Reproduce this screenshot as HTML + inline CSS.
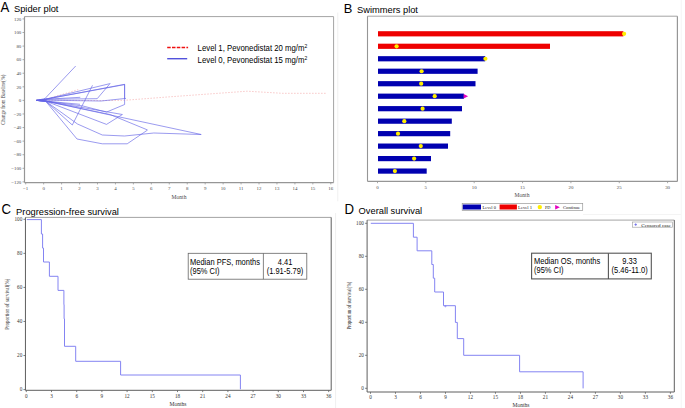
<!DOCTYPE html>
<html><head><meta charset="utf-8"><style>
html,body{margin:0;padding:0;background:#fff;width:685px;height:408px;overflow:hidden;}
svg{display:block;}

</style></head><body>
<svg width="685" height="408" viewBox="0 0 685 408">
<rect width="685" height="408" fill="#fff"/>
<text transform="translate(0.40,12.30) scale(1,1.06)" font-size="13.2" font-family='"Liberation Sans", sans-serif' text-anchor="start" fill="#000" >A</text>
<text x="14.00" y="12.30" font-size="9.3" font-family='"Liberation Sans", sans-serif' text-anchor="start" fill="#000" >Spider plot</text>
<line x1="24.50" y1="16.60" x2="333.60" y2="16.60" stroke="#a4a4a4" stroke-width="1.0" />
<line x1="333.60" y1="16.60" x2="333.60" y2="182.60" stroke="#a4a4a4" stroke-width="1.0" />
<line x1="24.50" y1="16.60" x2="24.50" y2="182.60" stroke="#969696" stroke-width="1.2" />
<line x1="24.50" y1="182.60" x2="333.60" y2="182.60" stroke="#969696" stroke-width="1.2" />
<line x1="22.50" y1="18.92" x2="24.50" y2="18.92" stroke="#969696" stroke-width="0.8" />
<text x="21.30" y="20.62" font-size="4.9" font-family='"Liberation Serif", serif' text-anchor="end" fill="#4a4a4a" >120</text>
<line x1="22.50" y1="32.50" x2="24.50" y2="32.50" stroke="#969696" stroke-width="0.8" />
<text x="21.30" y="34.20" font-size="4.9" font-family='"Liberation Serif", serif' text-anchor="end" fill="#4a4a4a" >100</text>
<line x1="22.50" y1="46.08" x2="24.50" y2="46.08" stroke="#969696" stroke-width="0.8" />
<text x="21.30" y="47.78" font-size="4.9" font-family='"Liberation Serif", serif' text-anchor="end" fill="#4a4a4a" >80</text>
<line x1="22.50" y1="59.66" x2="24.50" y2="59.66" stroke="#969696" stroke-width="0.8" />
<text x="21.30" y="61.36" font-size="4.9" font-family='"Liberation Serif", serif' text-anchor="end" fill="#4a4a4a" >60</text>
<line x1="22.50" y1="73.24" x2="24.50" y2="73.24" stroke="#969696" stroke-width="0.8" />
<text x="21.30" y="74.94" font-size="4.9" font-family='"Liberation Serif", serif' text-anchor="end" fill="#4a4a4a" >40</text>
<line x1="22.50" y1="86.82" x2="24.50" y2="86.82" stroke="#969696" stroke-width="0.8" />
<text x="21.30" y="88.52" font-size="4.9" font-family='"Liberation Serif", serif' text-anchor="end" fill="#4a4a4a" >20</text>
<line x1="22.50" y1="100.40" x2="24.50" y2="100.40" stroke="#969696" stroke-width="0.8" />
<text x="21.30" y="102.10" font-size="4.9" font-family='"Liberation Serif", serif' text-anchor="end" fill="#4a4a4a" >0</text>
<line x1="22.50" y1="113.98" x2="24.50" y2="113.98" stroke="#969696" stroke-width="0.8" />
<text x="21.30" y="115.68" font-size="4.9" font-family='"Liberation Serif", serif' text-anchor="end" fill="#4a4a4a" >−20</text>
<line x1="22.50" y1="127.56" x2="24.50" y2="127.56" stroke="#969696" stroke-width="0.8" />
<text x="21.30" y="129.26" font-size="4.9" font-family='"Liberation Serif", serif' text-anchor="end" fill="#4a4a4a" >−40</text>
<line x1="22.50" y1="141.14" x2="24.50" y2="141.14" stroke="#969696" stroke-width="0.8" />
<text x="21.30" y="142.84" font-size="4.9" font-family='"Liberation Serif", serif' text-anchor="end" fill="#4a4a4a" >−60</text>
<line x1="22.50" y1="154.72" x2="24.50" y2="154.72" stroke="#969696" stroke-width="0.8" />
<text x="21.30" y="156.42" font-size="4.9" font-family='"Liberation Serif", serif' text-anchor="end" fill="#4a4a4a" >−80</text>
<line x1="22.50" y1="168.30" x2="24.50" y2="168.30" stroke="#969696" stroke-width="0.8" />
<text x="21.30" y="170.00" font-size="4.9" font-family='"Liberation Serif", serif' text-anchor="end" fill="#4a4a4a" >−100</text>
<line x1="22.50" y1="181.88" x2="24.50" y2="181.88" stroke="#969696" stroke-width="0.8" />
<text x="21.30" y="183.58" font-size="4.9" font-family='"Liberation Serif", serif' text-anchor="end" fill="#4a4a4a" >−120</text>
<line x1="25.70" y1="182.60" x2="25.70" y2="184.40" stroke="#969696" stroke-width="0.8" />
<text x="25.70" y="189.90" font-size="4.9" font-family='"Liberation Serif", serif' text-anchor="middle" fill="#4a4a4a" >−1</text>
<line x1="43.65" y1="182.60" x2="43.65" y2="184.40" stroke="#969696" stroke-width="0.8" />
<text x="43.65" y="189.90" font-size="4.9" font-family='"Liberation Serif", serif' text-anchor="middle" fill="#4a4a4a" >0</text>
<line x1="61.60" y1="182.60" x2="61.60" y2="184.40" stroke="#969696" stroke-width="0.8" />
<text x="61.60" y="189.90" font-size="4.9" font-family='"Liberation Serif", serif' text-anchor="middle" fill="#4a4a4a" >1</text>
<line x1="79.54" y1="182.60" x2="79.54" y2="184.40" stroke="#969696" stroke-width="0.8" />
<text x="79.54" y="189.90" font-size="4.9" font-family='"Liberation Serif", serif' text-anchor="middle" fill="#4a4a4a" >2</text>
<line x1="97.49" y1="182.60" x2="97.49" y2="184.40" stroke="#969696" stroke-width="0.8" />
<text x="97.49" y="189.90" font-size="4.9" font-family='"Liberation Serif", serif' text-anchor="middle" fill="#4a4a4a" >3</text>
<line x1="115.44" y1="182.60" x2="115.44" y2="184.40" stroke="#969696" stroke-width="0.8" />
<text x="115.44" y="189.90" font-size="4.9" font-family='"Liberation Serif", serif' text-anchor="middle" fill="#4a4a4a" >4</text>
<line x1="133.38" y1="182.60" x2="133.38" y2="184.40" stroke="#969696" stroke-width="0.8" />
<text x="133.38" y="189.90" font-size="4.9" font-family='"Liberation Serif", serif' text-anchor="middle" fill="#4a4a4a" >5</text>
<line x1="151.33" y1="182.60" x2="151.33" y2="184.40" stroke="#969696" stroke-width="0.8" />
<text x="151.33" y="189.90" font-size="4.9" font-family='"Liberation Serif", serif' text-anchor="middle" fill="#4a4a4a" >6</text>
<line x1="169.28" y1="182.60" x2="169.28" y2="184.40" stroke="#969696" stroke-width="0.8" />
<text x="169.28" y="189.90" font-size="4.9" font-family='"Liberation Serif", serif' text-anchor="middle" fill="#4a4a4a" >7</text>
<line x1="187.23" y1="182.60" x2="187.23" y2="184.40" stroke="#969696" stroke-width="0.8" />
<text x="187.23" y="189.90" font-size="4.9" font-family='"Liberation Serif", serif' text-anchor="middle" fill="#4a4a4a" >8</text>
<line x1="205.17" y1="182.60" x2="205.17" y2="184.40" stroke="#969696" stroke-width="0.8" />
<text x="205.17" y="189.90" font-size="4.9" font-family='"Liberation Serif", serif' text-anchor="middle" fill="#4a4a4a" >9</text>
<line x1="223.12" y1="182.60" x2="223.12" y2="184.40" stroke="#969696" stroke-width="0.8" />
<text x="223.12" y="189.90" font-size="4.9" font-family='"Liberation Serif", serif' text-anchor="middle" fill="#4a4a4a" >10</text>
<line x1="241.07" y1="182.60" x2="241.07" y2="184.40" stroke="#969696" stroke-width="0.8" />
<text x="241.07" y="189.90" font-size="4.9" font-family='"Liberation Serif", serif' text-anchor="middle" fill="#4a4a4a" >11</text>
<line x1="259.01" y1="182.60" x2="259.01" y2="184.40" stroke="#969696" stroke-width="0.8" />
<text x="259.01" y="189.90" font-size="4.9" font-family='"Liberation Serif", serif' text-anchor="middle" fill="#4a4a4a" >12</text>
<line x1="276.96" y1="182.60" x2="276.96" y2="184.40" stroke="#969696" stroke-width="0.8" />
<text x="276.96" y="189.90" font-size="4.9" font-family='"Liberation Serif", serif' text-anchor="middle" fill="#4a4a4a" >13</text>
<line x1="294.91" y1="182.60" x2="294.91" y2="184.40" stroke="#969696" stroke-width="0.8" />
<text x="294.91" y="189.90" font-size="4.9" font-family='"Liberation Serif", serif' text-anchor="middle" fill="#4a4a4a" >14</text>
<line x1="312.85" y1="182.60" x2="312.85" y2="184.40" stroke="#969696" stroke-width="0.8" />
<text x="312.85" y="189.90" font-size="4.9" font-family='"Liberation Serif", serif' text-anchor="middle" fill="#4a4a4a" >15</text>
<line x1="330.80" y1="182.60" x2="330.80" y2="184.40" stroke="#969696" stroke-width="0.8" />
<text x="330.80" y="189.90" font-size="4.9" font-family='"Liberation Serif", serif' text-anchor="middle" fill="#4a4a4a" >16</text>
<text x="179.00" y="199.00" font-size="5.6" font-family='"Liberation Serif", serif' text-anchor="middle" fill="#4a4a4a" >Month</text>
<text x="0.00" y="0.00" font-size="5.6" font-family='"Liberation Serif", serif' text-anchor="middle" fill="#444" transform="translate(5.1,99.7) rotate(-90)" textLength="50" lengthAdjust="spacingAndGlyphs">Change from Baseline(%)</text>
<line x1="167.20" y1="47.50" x2="188.10" y2="47.50" stroke="#ee1010" stroke-width="1.3" stroke-dasharray="3.5,1.3"/>
<line x1="167.20" y1="58.70" x2="187.20" y2="58.70" stroke="#5252dc" stroke-width="1.4" />
<text transform="translate(197.60,50.60) scale(1,1.12)" font-size="7.8" font-family='"Liberation Sans", sans-serif' text-anchor="start" fill="#000" >Level 1, Pevonedistat 20 mg/m<tspan dy="-2.6" font-size="5">2</tspan></text>
<text transform="translate(197.60,62.80) scale(1,1.12)" font-size="7.8" font-family='"Liberation Sans", sans-serif' text-anchor="start" fill="#000" >Level 0, Pevonedistat 15 mg/m<tspan dy="-2.6" font-size="5">2</tspan></text>
<polyline points="36.50,100.40 45.00,99.60 78.20,89.60" fill="none" stroke="#f3a3a3" stroke-width="0.6" stroke-dasharray="1.5,1.5"/>
<polyline points="36.50,100.40 45.00,100.10 101.00,100.60 124.50,100.30 170.00,96.80 247.20,91.20 282.20,93.30 326.00,93.30" fill="none" stroke="#f3a3a3" stroke-width="0.6" stroke-dasharray="1.5,1.5"/>
<polyline points="36.50,100.40 45.00,98.50 75.70,66.00" fill="none" stroke="#6464e6" stroke-width="0.65" stroke-linejoin="round"/>
<polyline points="36.50,100.40 45.00,99.30 124.60,84.30 124.60,98.50" fill="none" stroke="#6464e6" stroke-width="0.65" stroke-linejoin="round"/>
<polyline points="36.50,100.40 45.00,99.30 124.60,84.60" fill="none" stroke="#6464e6" stroke-width="0.65" stroke-linejoin="round"/>
<polyline points="36.50,100.40 45.00,99.30 110.40,83.50" fill="none" stroke="#6464e6" stroke-width="0.65" stroke-linejoin="round"/>
<polyline points="36.50,100.40 45.00,99.30 97.20,98.70 109.50,84.20" fill="none" stroke="#6464e6" stroke-width="0.65" stroke-linejoin="round"/>
<polyline points="36.50,100.40 45.60,101.10 72.30,125.00 92.50,85.30" fill="none" stroke="#6464e6" stroke-width="0.65" stroke-linejoin="round"/>
<polyline points="36.50,100.40 45.30,100.20 101.00,101.00 126.00,98.40" fill="none" stroke="#6464e6" stroke-width="0.65" stroke-linejoin="round"/>
<polyline points="36.50,100.40 45.60,101.10 83.00,106.00 106.50,112.10 124.60,104.50 124.60,84.30" fill="none" stroke="#6464e6" stroke-width="0.65" stroke-linejoin="round"/>
<polyline points="36.50,100.40 45.60,101.10 77.00,139.00 102.30,143.80 127.20,143.80 147.60,130.00" fill="none" stroke="#6464e6" stroke-width="0.65" stroke-linejoin="round"/>
<polyline points="36.50,100.40 45.60,101.10 110.00,114.50 147.20,129.80" fill="none" stroke="#6464e6" stroke-width="0.65" stroke-linejoin="round"/>
<polyline points="36.50,100.40 45.60,101.10 201.20,134.50" fill="none" stroke="#6464e6" stroke-width="0.65" stroke-linejoin="round"/>
<polyline points="36.50,100.40 45.60,101.10 77.50,124.00 102.30,135.00 124.60,136.00 153.80,133.00 201.20,134.50" fill="none" stroke="#6464e6" stroke-width="0.65" stroke-linejoin="round"/>
<polyline points="36.50,100.40 45.60,101.10 122.40,114.50" fill="none" stroke="#6464e6" stroke-width="0.65" stroke-linejoin="round"/>
<polyline points="36.50,100.40 45.60,101.10 106.50,124.40 122.40,114.50" fill="none" stroke="#6464e6" stroke-width="0.65" stroke-linejoin="round"/>
<polyline points="36.50,100.40 45.00,99.30 80.30,97.30" fill="none" stroke="#6464e6" stroke-width="0.65" stroke-linejoin="round"/>
<polyline points="36.50,100.40 45.60,101.10 80.00,104.30" fill="none" stroke="#6464e6" stroke-width="0.65" stroke-linejoin="round"/>
<text transform="translate(343.70,12.60) scale(1,1.06)" font-size="12.9" font-family='"Liberation Sans", sans-serif' text-anchor="start" fill="#000" >B</text>
<text x="357.00" y="13.10" font-size="9.3" font-family='"Liberation Sans", sans-serif' text-anchor="start" fill="#000" >Swimmers plot</text>
<line x1="367.50" y1="16.20" x2="677.40" y2="16.20" stroke="#a4a4a4" stroke-width="1.0" />
<line x1="677.40" y1="16.20" x2="677.40" y2="181.40" stroke="#969696" stroke-width="1.2" />
<line x1="367.50" y1="16.20" x2="367.50" y2="181.40" stroke="#969696" stroke-width="1.1" />
<line x1="367.50" y1="181.40" x2="677.40" y2="181.40" stroke="#969696" stroke-width="1.2" />
<line x1="377.50" y1="181.40" x2="377.50" y2="183.20" stroke="#969696" stroke-width="0.8" />
<text x="377.50" y="188.60" font-size="4.9" font-family='"Liberation Serif", serif' text-anchor="middle" fill="#4a4a4a" >0</text>
<line x1="425.85" y1="181.40" x2="425.85" y2="183.20" stroke="#969696" stroke-width="0.8" />
<text x="425.85" y="188.60" font-size="4.9" font-family='"Liberation Serif", serif' text-anchor="middle" fill="#4a4a4a" >5</text>
<line x1="474.20" y1="181.40" x2="474.20" y2="183.20" stroke="#969696" stroke-width="0.8" />
<text x="474.20" y="188.60" font-size="4.9" font-family='"Liberation Serif", serif' text-anchor="middle" fill="#4a4a4a" >10</text>
<line x1="522.55" y1="181.40" x2="522.55" y2="183.20" stroke="#969696" stroke-width="0.8" />
<text x="522.55" y="188.60" font-size="4.9" font-family='"Liberation Serif", serif' text-anchor="middle" fill="#4a4a4a" >15</text>
<line x1="570.90" y1="181.40" x2="570.90" y2="183.20" stroke="#969696" stroke-width="0.8" />
<text x="570.90" y="188.60" font-size="4.9" font-family='"Liberation Serif", serif' text-anchor="middle" fill="#4a4a4a" >20</text>
<line x1="619.25" y1="181.40" x2="619.25" y2="183.20" stroke="#969696" stroke-width="0.8" />
<text x="619.25" y="188.60" font-size="4.9" font-family='"Liberation Serif", serif' text-anchor="middle" fill="#4a4a4a" >25</text>
<line x1="667.60" y1="181.40" x2="667.60" y2="183.20" stroke="#969696" stroke-width="0.8" />
<text x="667.60" y="188.60" font-size="4.9" font-family='"Liberation Serif", serif' text-anchor="middle" fill="#4a4a4a" >30</text>
<text x="522.00" y="197.40" font-size="5.6" font-family='"Liberation Serif", serif' text-anchor="middle" fill="#4a4a4a" >Month</text>
<rect x="378.00" y="31.20" width="245.40" height="5.20" fill="#ee0000" stroke="none" stroke-width="1" />
<circle cx="624.10" cy="33.80" r="2.1" fill="#ffee00"/>
<rect x="378.00" y="43.68" width="172.00" height="5.20" fill="#ee0000" stroke="none" stroke-width="1" />
<circle cx="396.60" cy="46.28" r="2.1" fill="#ffee00"/>
<rect x="378.00" y="56.16" width="107.20" height="5.20" fill="#0000b0" stroke="none" stroke-width="1" />
<circle cx="485.40" cy="58.76" r="2.1" fill="#ffee00"/>
<rect x="378.00" y="68.64" width="99.60" height="5.20" fill="#0000b0" stroke="none" stroke-width="1" />
<circle cx="421.60" cy="71.24" r="2.1" fill="#ffee00"/>
<rect x="378.00" y="81.12" width="97.50" height="5.20" fill="#0000b0" stroke="none" stroke-width="1" />
<circle cx="421.20" cy="83.72" r="2.1" fill="#ffee00"/>
<rect x="378.00" y="93.60" width="85.90" height="5.20" fill="#0000b0" stroke="none" stroke-width="1" />
<circle cx="434.70" cy="96.20" r="2.1" fill="#ffee00"/>
<polygon points="463.70,93.90 468.10,96.20 463.70,98.50" fill="#e400c0"/>
<rect x="378.00" y="106.08" width="84.00" height="5.20" fill="#0000b0" stroke="none" stroke-width="1" />
<circle cx="422.60" cy="108.68" r="2.1" fill="#ffee00"/>
<rect x="378.00" y="118.56" width="73.80" height="5.20" fill="#0000b0" stroke="none" stroke-width="1" />
<circle cx="404.30" cy="121.16" r="2.1" fill="#ffee00"/>
<rect x="378.00" y="131.04" width="72.20" height="5.20" fill="#0000b0" stroke="none" stroke-width="1" />
<circle cx="398.00" cy="133.64" r="2.1" fill="#ffee00"/>
<rect x="378.00" y="143.52" width="70.00" height="5.20" fill="#0000b0" stroke="none" stroke-width="1" />
<circle cx="420.80" cy="146.12" r="2.1" fill="#ffee00"/>
<rect x="378.00" y="156.00" width="53.00" height="5.20" fill="#0000b0" stroke="none" stroke-width="1" />
<circle cx="414.10" cy="158.60" r="2.1" fill="#ffee00"/>
<rect x="378.00" y="168.48" width="48.70" height="5.20" fill="#0000b0" stroke="none" stroke-width="1" />
<circle cx="394.90" cy="171.08" r="2.1" fill="#ffee00"/>
<rect x="462.20" y="203.40" width="120.50" height="7.00" fill="#fff" stroke="#999" stroke-width="0.7" />
<rect x="462.80" y="204.50" width="18.20" height="5.00" fill="#0000b0" stroke="none" stroke-width="1" />
<text x="482.50" y="208.90" font-size="4.6" font-family='"Liberation Serif", serif' text-anchor="start" fill="#222" textLength="13.4" lengthAdjust="spacingAndGlyphs">Level 0</text>
<rect x="499.60" y="204.50" width="17.30" height="5.00" fill="#ee0000" stroke="none" stroke-width="1" />
<text x="518.10" y="208.90" font-size="4.6" font-family='"Liberation Serif", serif' text-anchor="start" fill="#222" textLength="14" lengthAdjust="spacingAndGlyphs">Level 1</text>
<circle cx="539.8" cy="207.1" r="2.2" fill="#ffee00"/>
<text x="544.90" y="208.90" font-size="4.6" font-family='"Liberation Serif", serif' text-anchor="start" fill="#222" textLength="5.5" lengthAdjust="spacingAndGlyphs">PD</text>
<polygon points="555.2,205.0 559.9,207.2 555.2,209.4" fill="#e400c0"/>
<text x="562.90" y="208.90" font-size="4.6" font-family='"Liberation Serif", serif' text-anchor="start" fill="#222" textLength="17.3" lengthAdjust="spacingAndGlyphs">Continue</text>
<text transform="translate(1.60,214.40) scale(1,1.06)" font-size="13.2" font-family='"Liberation Sans", sans-serif' text-anchor="start" fill="#000" >C</text>
<text x="16.10" y="214.60" font-size="9.3" font-family='"Liberation Sans", sans-serif' text-anchor="start" fill="#000" >Progression-free survival</text>
<line x1="25.45" y1="217.40" x2="331.20" y2="217.40" stroke="#a4a4a4" stroke-width="1.0" />
<line x1="331.20" y1="217.40" x2="331.20" y2="390.30" stroke="#5e5e5e" stroke-width="1.0" />
<line x1="25.45" y1="217.40" x2="25.45" y2="390.30" stroke="#5e5e5e" stroke-width="1.0" />
<line x1="25.45" y1="390.30" x2="331.20" y2="390.30" stroke="#5e5e5e" stroke-width="1.0" />
<line x1="23.45" y1="389.60" x2="25.45" y2="389.60" stroke="#5e5e5e" stroke-width="0.8" />
<text x="22.25" y="391.30" font-size="5.2" font-family='"Liberation Serif", serif' text-anchor="end" fill="#333" >0</text>
<line x1="23.45" y1="355.54" x2="25.45" y2="355.54" stroke="#5e5e5e" stroke-width="0.8" />
<text x="22.25" y="357.24" font-size="5.2" font-family='"Liberation Serif", serif' text-anchor="end" fill="#333" >20</text>
<line x1="23.45" y1="321.48" x2="25.45" y2="321.48" stroke="#5e5e5e" stroke-width="0.8" />
<text x="22.25" y="323.18" font-size="5.2" font-family='"Liberation Serif", serif' text-anchor="end" fill="#333" >40</text>
<line x1="23.45" y1="287.42" x2="25.45" y2="287.42" stroke="#5e5e5e" stroke-width="0.8" />
<text x="22.25" y="289.12" font-size="5.2" font-family='"Liberation Serif", serif' text-anchor="end" fill="#333" >60</text>
<line x1="23.45" y1="253.36" x2="25.45" y2="253.36" stroke="#5e5e5e" stroke-width="0.8" />
<text x="22.25" y="255.06" font-size="5.2" font-family='"Liberation Serif", serif' text-anchor="end" fill="#333" >80</text>
<line x1="23.45" y1="219.30" x2="25.45" y2="219.30" stroke="#5e5e5e" stroke-width="0.8" />
<text x="22.25" y="221.00" font-size="5.2" font-family='"Liberation Serif", serif' text-anchor="end" fill="#333" >100</text>
<line x1="26.30" y1="390.30" x2="26.30" y2="392.10" stroke="#5e5e5e" stroke-width="0.8" />
<text x="26.30" y="398.30" font-size="5.2" font-family='"Liberation Serif", serif' text-anchor="middle" fill="#333" >0</text>
<line x1="51.50" y1="390.30" x2="51.50" y2="392.10" stroke="#5e5e5e" stroke-width="0.8" />
<text x="51.50" y="398.30" font-size="5.2" font-family='"Liberation Serif", serif' text-anchor="middle" fill="#333" >3</text>
<line x1="76.70" y1="390.30" x2="76.70" y2="392.10" stroke="#5e5e5e" stroke-width="0.8" />
<text x="76.70" y="398.30" font-size="5.2" font-family='"Liberation Serif", serif' text-anchor="middle" fill="#333" >6</text>
<line x1="101.90" y1="390.30" x2="101.90" y2="392.10" stroke="#5e5e5e" stroke-width="0.8" />
<text x="101.90" y="398.30" font-size="5.2" font-family='"Liberation Serif", serif' text-anchor="middle" fill="#333" >9</text>
<line x1="127.10" y1="390.30" x2="127.10" y2="392.10" stroke="#5e5e5e" stroke-width="0.8" />
<text x="127.10" y="398.30" font-size="5.2" font-family='"Liberation Serif", serif' text-anchor="middle" fill="#333" >12</text>
<line x1="152.30" y1="390.30" x2="152.30" y2="392.10" stroke="#5e5e5e" stroke-width="0.8" />
<text x="152.30" y="398.30" font-size="5.2" font-family='"Liberation Serif", serif' text-anchor="middle" fill="#333" >15</text>
<line x1="177.50" y1="390.30" x2="177.50" y2="392.10" stroke="#5e5e5e" stroke-width="0.8" />
<text x="177.50" y="398.30" font-size="5.2" font-family='"Liberation Serif", serif' text-anchor="middle" fill="#333" >18</text>
<line x1="202.70" y1="390.30" x2="202.70" y2="392.10" stroke="#5e5e5e" stroke-width="0.8" />
<text x="202.70" y="398.30" font-size="5.2" font-family='"Liberation Serif", serif' text-anchor="middle" fill="#333" >21</text>
<line x1="227.90" y1="390.30" x2="227.90" y2="392.10" stroke="#5e5e5e" stroke-width="0.8" />
<text x="227.90" y="398.30" font-size="5.2" font-family='"Liberation Serif", serif' text-anchor="middle" fill="#333" >24</text>
<line x1="253.10" y1="390.30" x2="253.10" y2="392.10" stroke="#5e5e5e" stroke-width="0.8" />
<text x="253.10" y="398.30" font-size="5.2" font-family='"Liberation Serif", serif' text-anchor="middle" fill="#333" >27</text>
<line x1="278.30" y1="390.30" x2="278.30" y2="392.10" stroke="#5e5e5e" stroke-width="0.8" />
<text x="278.30" y="398.30" font-size="5.2" font-family='"Liberation Serif", serif' text-anchor="middle" fill="#333" >30</text>
<line x1="303.50" y1="390.30" x2="303.50" y2="392.10" stroke="#5e5e5e" stroke-width="0.8" />
<text x="303.50" y="398.30" font-size="5.2" font-family='"Liberation Serif", serif' text-anchor="middle" fill="#333" >33</text>
<line x1="328.70" y1="390.30" x2="328.70" y2="392.10" stroke="#5e5e5e" stroke-width="0.8" />
<text x="328.70" y="398.30" font-size="5.2" font-family='"Liberation Serif", serif' text-anchor="middle" fill="#333" >36</text>
<text x="178.00" y="406.00" font-size="5.6" font-family='"Liberation Serif", serif' text-anchor="middle" fill="#333" >Months</text>
<text x="0.00" y="0.00" font-size="5.8" font-family='"Liberation Serif", serif' text-anchor="middle" fill="#333" transform="translate(8.7,304.3) rotate(-90)" textLength="51" lengthAdjust="spacingAndGlyphs">Proportion of survival(%)</text>
<polyline points="26.90,219.60 41.40,219.60 41.40,234.00 42.60,234.00 42.60,248.10 43.50,248.10 43.50,262.00 49.40,262.00 49.40,276.30 58.00,276.30 58.00,290.40 63.90,290.40 63.90,304.60 64.10,304.60 64.10,318.80 64.50,318.80 64.50,333.00 64.50,346.30 75.70,346.30 75.70,361.30 120.60,361.30 120.60,375.00 240.40,375.00 240.40,389.30" fill="none" stroke="#8484f2" stroke-width="1.0" />
<rect x="188.20" y="253.30" width="118.60" height="25.90" fill="#fff" stroke="#666" stroke-width="0.8" />
<line x1="263.40" y1="253.30" x2="263.40" y2="279.20" stroke="#666" stroke-width="0.8" />
<text transform="translate(190.00,264.70) scale(1,1.12)" font-size="7.5" font-family='"Liberation Sans", sans-serif' text-anchor="start" fill="#000" >Median PFS, months</text>
<text transform="translate(190.00,273.60) scale(1,1.12)" font-size="7.5" font-family='"Liberation Sans", sans-serif' text-anchor="start" fill="#000" >(95% CI)</text>
<text transform="translate(285.00,264.70) scale(1,1.12)" font-size="7.5" font-family='"Liberation Sans", sans-serif' text-anchor="middle" fill="#000" >4.41</text>
<text transform="translate(285.00,273.60) scale(1,1.12)" font-size="7.5" font-family='"Liberation Sans", sans-serif' text-anchor="middle" fill="#000" >(1.91-5.79)</text>
<text transform="translate(344.40,214.30) scale(1,1.06)" font-size="13.2" font-family='"Liberation Sans", sans-serif' text-anchor="start" fill="#000" >D</text>
<text x="358.60" y="214.30" font-size="9.3" font-family='"Liberation Sans", sans-serif' text-anchor="start" fill="#000" >Overall survival</text>
<line x1="367.10" y1="220.10" x2="674.30" y2="220.10" stroke="#a4a4a4" stroke-width="1.0" />
<line x1="674.30" y1="220.10" x2="674.30" y2="392.00" stroke="#5e5e5e" stroke-width="1.0" />
<line x1="367.10" y1="220.10" x2="367.10" y2="392.00" stroke="#5e5e5e" stroke-width="1.0" />
<line x1="367.10" y1="392.00" x2="674.30" y2="392.00" stroke="#5e5e5e" stroke-width="1.0" />
<line x1="365.10" y1="388.30" x2="367.10" y2="388.30" stroke="#5e5e5e" stroke-width="0.8" />
<text x="363.90" y="390.00" font-size="5.2" font-family='"Liberation Serif", serif' text-anchor="end" fill="#333" >0</text>
<line x1="365.10" y1="355.30" x2="367.10" y2="355.30" stroke="#5e5e5e" stroke-width="0.8" />
<text x="363.90" y="357.00" font-size="5.2" font-family='"Liberation Serif", serif' text-anchor="end" fill="#333" >20</text>
<line x1="365.10" y1="322.30" x2="367.10" y2="322.30" stroke="#5e5e5e" stroke-width="0.8" />
<text x="363.90" y="324.00" font-size="5.2" font-family='"Liberation Serif", serif' text-anchor="end" fill="#333" >40</text>
<line x1="365.10" y1="289.30" x2="367.10" y2="289.30" stroke="#5e5e5e" stroke-width="0.8" />
<text x="363.90" y="291.00" font-size="5.2" font-family='"Liberation Serif", serif' text-anchor="end" fill="#333" >60</text>
<line x1="365.10" y1="256.30" x2="367.10" y2="256.30" stroke="#5e5e5e" stroke-width="0.8" />
<text x="363.90" y="258.00" font-size="5.2" font-family='"Liberation Serif", serif' text-anchor="end" fill="#333" >80</text>
<line x1="365.10" y1="223.30" x2="367.10" y2="223.30" stroke="#5e5e5e" stroke-width="0.8" />
<text x="363.90" y="225.00" font-size="5.2" font-family='"Liberation Serif", serif' text-anchor="end" fill="#333" >100</text>
<line x1="370.50" y1="392.00" x2="370.50" y2="393.80" stroke="#5e5e5e" stroke-width="0.8" />
<text x="370.50" y="399.30" font-size="5.2" font-family='"Liberation Serif", serif' text-anchor="middle" fill="#333" >0</text>
<line x1="395.49" y1="392.00" x2="395.49" y2="393.80" stroke="#5e5e5e" stroke-width="0.8" />
<text x="395.49" y="399.30" font-size="5.2" font-family='"Liberation Serif", serif' text-anchor="middle" fill="#333" >3</text>
<line x1="420.48" y1="392.00" x2="420.48" y2="393.80" stroke="#5e5e5e" stroke-width="0.8" />
<text x="420.48" y="399.30" font-size="5.2" font-family='"Liberation Serif", serif' text-anchor="middle" fill="#333" >6</text>
<line x1="445.47" y1="392.00" x2="445.47" y2="393.80" stroke="#5e5e5e" stroke-width="0.8" />
<text x="445.47" y="399.30" font-size="5.2" font-family='"Liberation Serif", serif' text-anchor="middle" fill="#333" >9</text>
<line x1="470.46" y1="392.00" x2="470.46" y2="393.80" stroke="#5e5e5e" stroke-width="0.8" />
<text x="470.46" y="399.30" font-size="5.2" font-family='"Liberation Serif", serif' text-anchor="middle" fill="#333" >12</text>
<line x1="495.45" y1="392.00" x2="495.45" y2="393.80" stroke="#5e5e5e" stroke-width="0.8" />
<text x="495.45" y="399.30" font-size="5.2" font-family='"Liberation Serif", serif' text-anchor="middle" fill="#333" >15</text>
<line x1="520.44" y1="392.00" x2="520.44" y2="393.80" stroke="#5e5e5e" stroke-width="0.8" />
<text x="520.44" y="399.30" font-size="5.2" font-family='"Liberation Serif", serif' text-anchor="middle" fill="#333" >18</text>
<line x1="545.43" y1="392.00" x2="545.43" y2="393.80" stroke="#5e5e5e" stroke-width="0.8" />
<text x="545.43" y="399.30" font-size="5.2" font-family='"Liberation Serif", serif' text-anchor="middle" fill="#333" >21</text>
<line x1="570.42" y1="392.00" x2="570.42" y2="393.80" stroke="#5e5e5e" stroke-width="0.8" />
<text x="570.42" y="399.30" font-size="5.2" font-family='"Liberation Serif", serif' text-anchor="middle" fill="#333" >24</text>
<line x1="595.41" y1="392.00" x2="595.41" y2="393.80" stroke="#5e5e5e" stroke-width="0.8" />
<text x="595.41" y="399.30" font-size="5.2" font-family='"Liberation Serif", serif' text-anchor="middle" fill="#333" >27</text>
<line x1="620.40" y1="392.00" x2="620.40" y2="393.80" stroke="#5e5e5e" stroke-width="0.8" />
<text x="620.40" y="399.30" font-size="5.2" font-family='"Liberation Serif", serif' text-anchor="middle" fill="#333" >30</text>
<line x1="645.39" y1="392.00" x2="645.39" y2="393.80" stroke="#5e5e5e" stroke-width="0.8" />
<text x="645.39" y="399.30" font-size="5.2" font-family='"Liberation Serif", serif' text-anchor="middle" fill="#333" >33</text>
<line x1="670.38" y1="392.00" x2="670.38" y2="393.80" stroke="#5e5e5e" stroke-width="0.8" />
<text x="670.38" y="399.30" font-size="5.2" font-family='"Liberation Serif", serif' text-anchor="middle" fill="#333" >36</text>
<text x="521.00" y="406.60" font-size="5.6" font-family='"Liberation Serif", serif' text-anchor="middle" fill="#333" >Months</text>
<text x="0.00" y="0.00" font-size="5.6" font-family='"Liberation Serif", serif' text-anchor="middle" fill="#333" transform="translate(350.5,305.6) rotate(-90)" textLength="48" lengthAdjust="spacingAndGlyphs">Proportion of survival(%)</text>
<polyline points="370.80,223.30 413.40,223.30 413.40,237.20 417.10,237.20 417.10,250.80 431.80,250.80 431.80,264.50 433.30,264.50 433.30,278.20 434.70,278.20 434.70,292.00 443.50,292.00 443.50,305.70 455.40,305.70 455.40,322.40 457.30,322.40 457.30,338.60 463.70,338.60 463.70,355.30 519.60,355.30 519.60,371.80 583.10,371.80 583.10,388.40" fill="none" stroke="#8484f2" stroke-width="1.0" />
<line x1="444.20" y1="306.20" x2="446.60" y2="306.20" stroke="#8484f2" stroke-width="0.6" />
<line x1="445.40" y1="305.00" x2="445.40" y2="307.40" stroke="#8484f2" stroke-width="0.6" />
<rect x="632.30" y="222.00" width="40.10" height="5.20" fill="#fff" stroke="#999" stroke-width="0.6" />
<line x1="634.40" y1="224.60" x2="637.00" y2="224.60" stroke="#5a5ae6" stroke-width="0.7" />
<line x1="635.70" y1="223.30" x2="635.70" y2="225.90" stroke="#5a5ae6" stroke-width="0.7" />
<text x="641.30" y="226.50" font-size="5.0" font-family='"Liberation Serif", serif' text-anchor="start" fill="#222" textLength="29.5" lengthAdjust="spacingAndGlyphs">Censored case</text>
<rect x="531.60" y="253.20" width="119.70" height="25.70" fill="#fff" stroke="#555" stroke-width="1.1" />
<line x1="608.40" y1="253.20" x2="608.40" y2="278.90" stroke="#555" stroke-width="1.1" />
<text transform="translate(534.00,264.30) scale(1,1.12)" font-size="7.5" font-family='"Liberation Sans", sans-serif' text-anchor="start" fill="#000" >Median OS, months</text>
<text transform="translate(534.00,273.20) scale(1,1.12)" font-size="7.5" font-family='"Liberation Sans", sans-serif' text-anchor="start" fill="#000" >(95% CI)</text>
<text transform="translate(629.60,264.30) scale(1,1.12)" font-size="7.5" font-family='"Liberation Sans", sans-serif' text-anchor="middle" fill="#000" >9.33</text>
<text transform="translate(629.60,273.20) scale(1,1.12)" font-size="7.5" font-family='"Liberation Sans", sans-serif' text-anchor="middle" fill="#000" >(5.46-11.0)</text>
<line x1="337.80" y1="12.50" x2="337.80" y2="201.30" stroke="#f0f0f0" stroke-width="1" />
<line x1="335.60" y1="213.00" x2="335.60" y2="408.00" stroke="#f0f0f0" stroke-width="1" />
<line x1="583.00" y1="214.50" x2="681.00" y2="214.50" stroke="#f4f4f4" stroke-width="1" />
<line x1="681.20" y1="0.00" x2="681.20" y2="408.00" stroke="#f4f4f4" stroke-width="1" />
</svg>
</body></html>
